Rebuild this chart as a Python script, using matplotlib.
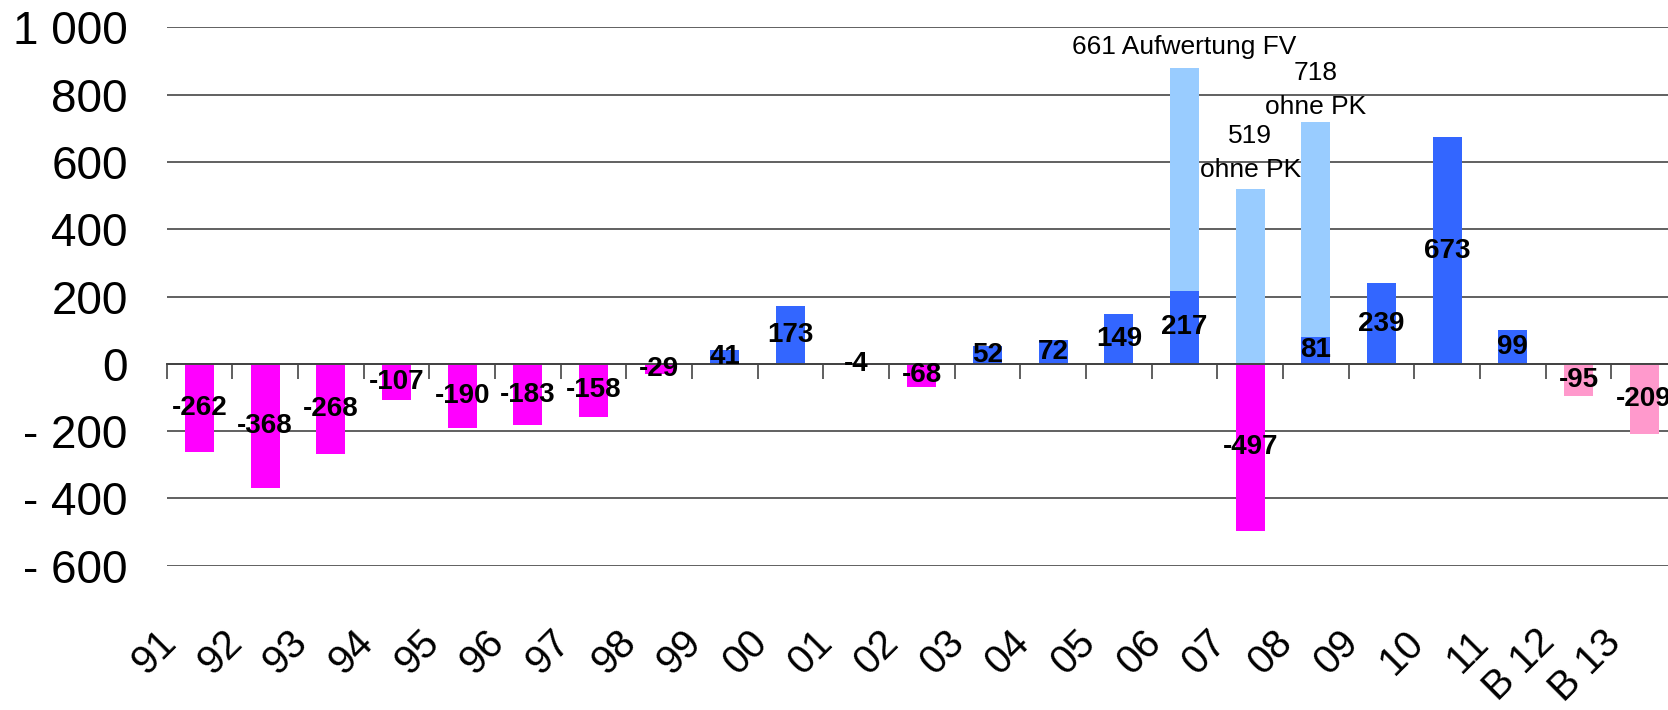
import numpy as np
import matplotlib
matplotlib.use("Agg")
import matplotlib.pyplot as plt
import matplotlib.transforms as mtransforms

# Jahre / Kategorien
jahre = ["91", "92", "93", "94", "95", "96", "97", "98", "99", "00", "01", "02",
         "03", "04", "05", "06", "07", "08", "09", "10", "11", "B 12", "B 13"]

# Rechnungsergebnis (Mio.)
saldo = [-262, -368, -268, -107, -190, -183, -158, -29, 41, 173, -4, -68,
         52, 72, 149, 217, -497, 81, 239, 673, 99, -95, -209]

# Sondereffekte (hellblau gestapelt)
zusatz_jahre = ["06", "07", "08"]
zusatz_wert = [661, 519, 637]
zusatz_text = ["661 Aufwertung FV", "519\nohne PK", "718\nohne PK"]

y_ticks = [-600, -400, -200, 0, 200, 400, 600, 800, 1000]
y_labels = ["- 600", "- 400", "- 200", "0", "200", "400", "600", "800", "1 000"]

BLAU = "#3366FF"
HELLBLAU = "#99CCFF"
MAGENTA = "#FF00FF"
ROSA = "#FF99CC"
GRID = "#606060"

plt.rcParams["font.family"] = ["Liberation Sans", "DejaVu Sans"]

W, H = 1668, 710
fig = plt.figure(figsize=(W / 100, H / 100), dpi=100)
left, right, top, bottom = 166.7, 1677, 27.3, 565.7
ax = fig.add_axes([left / W, 1 - bottom / H, (right - left) / W, (bottom - top) / H])

x = np.arange(len(jahre))
farben = []
for lab, v in zip(jahre, saldo):
    if lab.startswith("B"):
        farben.append(ROSA)
    elif v < 0:
        farben.append(MAGENTA)
    else:
        farben.append(BLAU)

breite = 0.44
ax.bar(x, saldo, width=breite, color=farben, zorder=3)

# gestapelte Sondereffekte
idx = [jahre.index(j) for j in zusatz_jahre]
basis = [max(saldo[i], 0) for i in idx]
ax.bar(idx, zusatz_wert, bottom=basis, width=breite, color=HELLBLAU, zorder=3)

# Datenbeschriftung in Balkenmitte
for xi, v in zip(x, saldo):
    ax.text(xi, v / 2, str(v), ha="center", va="center", fontsize=20,
            fontweight="bold", zorder=5)

# Anmerkungen ueber den hellblauen Balken
abstand = [7, 5, 2]
for i, b, z, t, a in zip(idx, basis, zusatz_wert, zusatz_text, abstand):
    ax.annotate(t, xy=(i, b + z), xytext=(0, a), textcoords="offset points",
                ha="center", va="bottom", fontsize=19, linespacing=1.55,
                zorder=5)

ax.set_xlim(-0.5, len(jahre) - 0.5)
ax.set_ylim(-600, 1000)
ax.set_yticks(y_ticks)
ax.set_yticklabels(y_labels, fontsize=33)
ax.tick_params(axis="y", length=0, pad=28)
ax.yaxis.grid(True, color=GRID, linewidth=1.4, zorder=1)
ax.set_axisbelow(True)

for s in ["left", "right", "top"]:
    ax.spines[s].set_visible(False)
ax.spines["bottom"].set_position(("data", 0))
ax.spines["bottom"].set_color("#444444")
ax.spines["bottom"].set_linewidth(1.4)
ax.spines["bottom"].set_zorder(4)

# Teilstriche zwischen den Kategorien
ax.set_xticks(np.arange(-0.5, len(jahre), 1.0))
ax.set_xticklabels([])
ax.tick_params(axis="x", direction="out", length=10.8, width=1.2, colors="#444444")

# Kategorienbeschriftung unten, 45 Grad gedreht
trans = mtransforms.blended_transform_factory(ax.transData, ax.transAxes)
for xi, lab in zip(x, jahre):
    ax.text(xi - 0.655, -0.106, lab, transform=trans, rotation=45,
            rotation_mode="anchor", ha="right", va="top",
            fontsize=29, clip_on=False)

fig.savefig("out.png", dpi=100)
